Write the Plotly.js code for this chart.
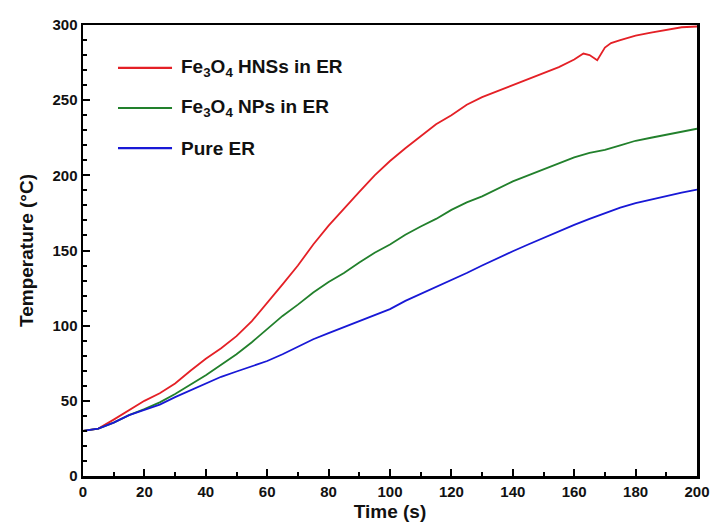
<!DOCTYPE html>
<html>
<head>
<meta charset="utf-8">
<script src="https://cdn.plot.ly/plotly-3.0.1.min.js"></script>
<style>html,body{margin:0;padding:0;background:#fff}#chart{width:713px;height:527px}</style>
</head>
<body>
<div id="chart"></div>
<script>
// Time (s)
const timeRed = [0,5,10,15,20,25,30,35,40,45,50,55,60,65,70,75,80,85,90,95,100,105,110,115,120,125,130,135,140,145,150,155,160,163,165,167.5,170,172,175,180,185,190,195,200];
const tempRed = [30,31.5,37.5,44,50,55,61.5,70,78,85,93,103,115,127.5,140,154,166.5,178,189,200,209.5,218,226,234,240,247,252,256,260,264,268,272,277,281,280,276.5,285,288,290,293,295,297,298.5,299];

const timeGB = [0,5,10,15,20,25,30,35,40,45,50,55,60,65,70,75,80,85,90,95,100,105,110,115,120,125,130,135,140,145,150,155,160,165,170,175,180,185,190,195,200];
const tempGreen = [30,31.5,35.5,40.5,44.5,49,54.5,60.5,67,74,81,89,98,106.5,114,122,129,135,142,148.5,154,160.5,166,171,177,182,186,191,196,200,204,208,212,215,217,220,223,225,227,229,231];
const tempBlue = [30,31.5,35.5,40.5,44,47.5,52.5,57,61.5,66,69.5,73,76.5,81,86,91,95,99,102.5,106.5,111,116.5,121,126,130.5,135,140,145,149.5,154,158.5,163,167,171,175,178.5,181.5,184,186.5,188.5,190.5];

const seriesNames = ["Fe<sub>3</sub>O<sub>4</sub> HNSs in ER", "Fe<sub>3</sub>O<sub>4</sub> NPs in ER", "Pure ER"];
const seriesColors = ["rgb(228,32,38)", "rgb(34,128,44)", "rgb(24,24,214)"];
const xTickVals = [0,20,40,60,80,100,120,140,160,180,200];
const yTickVals = [0,50,100,150,200,250,300];

const fontFam = "Liberation Sans, Arial, sans-serif";
const traces = [
  {x: timeRed, y: tempRed, name: seriesNames[0], mode: "lines", line: {color: seriesColors[0], width: 1.8}},
  {x: timeGB, y: tempGreen, name: seriesNames[1], mode: "lines", line: {color: seriesColors[1], width: 1.8}},
  {x: timeGB, y: tempBlue, name: seriesNames[2], mode: "lines", line: {color: seriesColors[2], width: 1.8}}
];

// manual legend (longer sample lines, as in the reference)
const legendY = [0.905, 0.816, 0.727];
const shapes = [];
const annotations = [];
seriesNames.forEach((nm, i) => {
  shapes.push({type: "line", xref: "paper", yref: "paper", x0: 0.057, x1: 0.145, y0: legendY[i], y1: legendY[i],
    line: {color: seriesColors[i], width: 2.2}});
  annotations.push({xref: "paper", yref: "paper", x: 0.157, y: legendY[i], xanchor: "left", yanchor: "middle",
    showarrow: false, text: nm, font: {family: fontFam, size: 19, color: "#111", weight: "bold"}});
});

const axisCommon = {
  showgrid: false, zeroline: false,
  showline: true, linecolor: "#000", linewidth: 2.5, mirror: true,
  ticks: "inside", ticklen: 7, tickwidth: 2, tickcolor: "#000",
  tickfont: {family: fontFam, size: 15, color: "#111", weight: "bold"}
};

const layout = {
  width: 713, height: 527,
  margin: {l: 83, r: 16, t: 25, b: 51},
  paper_bgcolor: "#fff", plot_bgcolor: "#fff",
  showlegend: false,
  shapes: shapes,
  annotations: annotations,
  xaxis: Object.assign({}, axisCommon, {
    range: [0, 200], tickvals: xTickVals,
    minor: {dtick: 10, ticks: "inside", ticklen: 4, tickwidth: 2, tickcolor: "#000"},
    title: {text: "Time (s)", standoff: 6, font: {family: fontFam, size: 19, color: "#111", weight: "bold"}}
  }),
  yaxis: Object.assign({}, axisCommon, {
    range: [0, 300], tickvals: yTickVals,
    minor: {dtick: 10, ticks: "inside", ticklen: 4, tickwidth: 2, tickcolor: "#000"},
    title: {text: "Temperature (°C)", standoff: 14, font: {family: fontFam, size: 19, color: "#111", weight: "bold"}}
  })
};

Plotly.newPlot("chart", traces, layout, {displayModeBar: false, staticPlot: true});
</script>
</body>
</html>
